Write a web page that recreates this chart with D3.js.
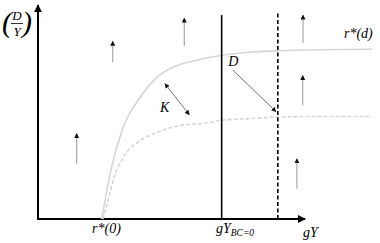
<!DOCTYPE html>
<html>
<head>
<meta charset="utf-8">
<script src="https://cdn.jsdelivr.net/npm/d3@7"></script>
<style>
  body { margin: 0; background: #fff; }
  text { font-family: "Liberation Serif", "DejaVu Serif", serif; font-style: italic; }
</style>
</head>
<body>
<div id="chart"></div>
<script>
// curve r*(d) (solid) and the lower dashed curve
var upperX = [24.0, 25.3, 27.2, 32.1, 38.5, 44.9, 50.9, 60.0, 69.4, 80.0, 90.6, 106.4, 126.0];
var upperY = [0, 8.5, 21.1, 42.7, 56.8, 66.2, 70.9, 74.2, 76.5, 77.9, 78.6, 79.1, 79.3];
var lowerX = [24.5, 26.4, 28.3, 32.1, 38.5, 44.9, 53.6, 64.9, 69.4, 80.0, 90.6, 106.4, 126.0];
var lowerY = [0, 8.5, 17.8, 28.6, 36.6, 40.4, 43.7, 45.1, 46.2, 46.9, 47.7, 47.9, 47.9];

// small upward field arrows: x, from, to
var fieldX = [14.6, 28.2, 55.2, 100.0, 99.9, 97.7];
var fieldFrom = [25.8, 73.2, 80.8, 82.2, 53.1, 14.1];
var fieldTo = [39.9, 83.1, 93.9, 95.3, 67.1, 28.2];

// vertical lines
var gyBC = 69.3, gyBCtop = 95.3;
var gyDash = 90.5, gyDashTop = 96.2;

// K double arrow and D arrow
var kArrow = [[47.9, 63.2], [57.1, 48.7]];
var dArrow = [[73.6, 69.5], [89.8, 50.2]];

var width = 380, height = 243;

var svg = d3.select("#chart").append("svg")
  .attr("width", width)
  .attr("height", height);

var x = d3.scaleLinear().domain([0, 100]).range([38, 303]);
var y = d3.scaleLinear().domain([0, 100]).range([219, 5]);

// arrow heads
var defs = svg.append("defs");
function marker(id, color, size) {
  defs.append("marker")
    .attr("id", id)
    .attr("viewBox", "0 0 10 10")
    .attr("refX", 9).attr("refY", 5)
    .attr("markerWidth", size).attr("markerHeight", size)
    .attr("markerUnits", "userSpaceOnUse")
    .attr("orient", "auto-start-reverse")
    .append("path")
      .attr("d", "M0,0 L10,5 L0,10 z")
      .attr("fill", color);
}
marker("axisHead", "#000", 8);
marker("smallHead", "#111", 5);

// axes
svg.append("line")
  .attr("x1", x(0)).attr("y1", y(0))
  .attr("x2", x(0)).attr("y2", y(100))
  .attr("stroke", "#000").attr("stroke-width", 2)
  .attr("marker-end", "url(#axisHead)");
svg.append("line")
  .attr("x1", x(0) - 1).attr("y1", y(0))
  .attr("x2", x(100.8)).attr("y2", y(0))
  .attr("stroke", "#000").attr("stroke-width", 2)
  .attr("marker-end", "url(#axisHead)");

// curves
var line = d3.line()
  .x(d => x(d[0]))
  .y(d => y(d[1]))
  .curve(d3.curveMonotoneX);

svg.append("path")
  .datum(d3.zip(upperX, upperY))
  .attr("fill", "none")
  .attr("stroke", "#d6d6d6")
  .attr("stroke-width", 1.6)
  .attr("d", line);

svg.append("path")
  .datum(d3.zip(lowerX, lowerY))
  .attr("fill", "none")
  .attr("stroke", "#d6d6d6")
  .attr("stroke-width", 1.6)
  .attr("stroke-dasharray", "4,2")
  .attr("d", line);

// vertical lines
svg.append("line")
  .attr("x1", x(gyBC)).attr("y1", y(0))
  .attr("x2", x(gyBC)).attr("y2", y(gyBCtop))
  .attr("stroke", "#000").attr("stroke-width", 1.6);
svg.append("line")
  .attr("x1", x(gyDash)).attr("y1", y(0))
  .attr("x2", x(gyDash)).attr("y2", y(gyDashTop))
  .attr("stroke", "#000").attr("stroke-width", 1.6)
  .attr("stroke-dasharray", "4,2.5");

// field arrows
svg.selectAll(".field")
  .data(fieldX)
  .enter().append("line")
    .attr("class", "field")
    .attr("x1", d => x(d)).attr("x2", d => x(d))
    .attr("y1", (d, i) => y(fieldFrom[i]))
    .attr("y2", (d, i) => y(fieldTo[i]))
    .attr("stroke", "#aaa").attr("stroke-width", 1.2)
    .attr("marker-end", "url(#smallHead)");

// K and D arrows
svg.append("line")
  .attr("x1", x(kArrow[0][0])).attr("y1", y(kArrow[0][1]))
  .attr("x2", x(kArrow[1][0])).attr("y2", y(kArrow[1][1]))
  .attr("stroke", "#777").attr("stroke-width", 1)
  .attr("marker-start", "url(#smallHead)")
  .attr("marker-end", "url(#smallHead)");
svg.append("line")
  .attr("x1", x(dArrow[0][0])).attr("y1", y(dArrow[0][1]))
  .attr("x2", x(dArrow[1][0])).attr("y2", y(dArrow[1][1]))
  .attr("stroke", "#777").attr("stroke-width", 1)
  .attr("marker-end", "url(#smallHead)");

// labels
function label(tx, ty, str, size, anchor) {
  return svg.append("text")
    .attr("x", tx).attr("y", ty)
    .attr("font-size", size)
    .attr("text-anchor", anchor || "start")
    .text(str);
}
label(x(71.8), y(71.3), "D", 14);
label(x(46.0), y(50.0), "K", 14);
label(344, 38, "r*(d)", 14);
label(x(20.4), 233, "r*(0)", 14);
label(303, 237, "gY", 14);

var gyLab = svg.append("text").attr("x", 216).attr("y", 233).attr("font-size", 14);
gyLab.append("tspan").text("gY");
gyLab.append("tspan").attr("font-size", 9.5).attr("dy", 3).text("BC=0");

// (D/Y) on the vertical axis
label(2, 32, "(", 30).attr("font-style", "normal").attr("font-weight", 300);
label(22, 32, ")", 30).attr("font-style", "normal").attr("font-weight", 300);
label(17, 20, "D", 13, "middle");
label(17, 36, "Y", 13, "middle");
svg.append("line")
  .attr("x1", 11).attr("x2", 23).attr("y1", 23.5).attr("y2", 23.5)
  .attr("stroke", "#000").attr("stroke-width", 0.8);
</script>
</body>
</html>
